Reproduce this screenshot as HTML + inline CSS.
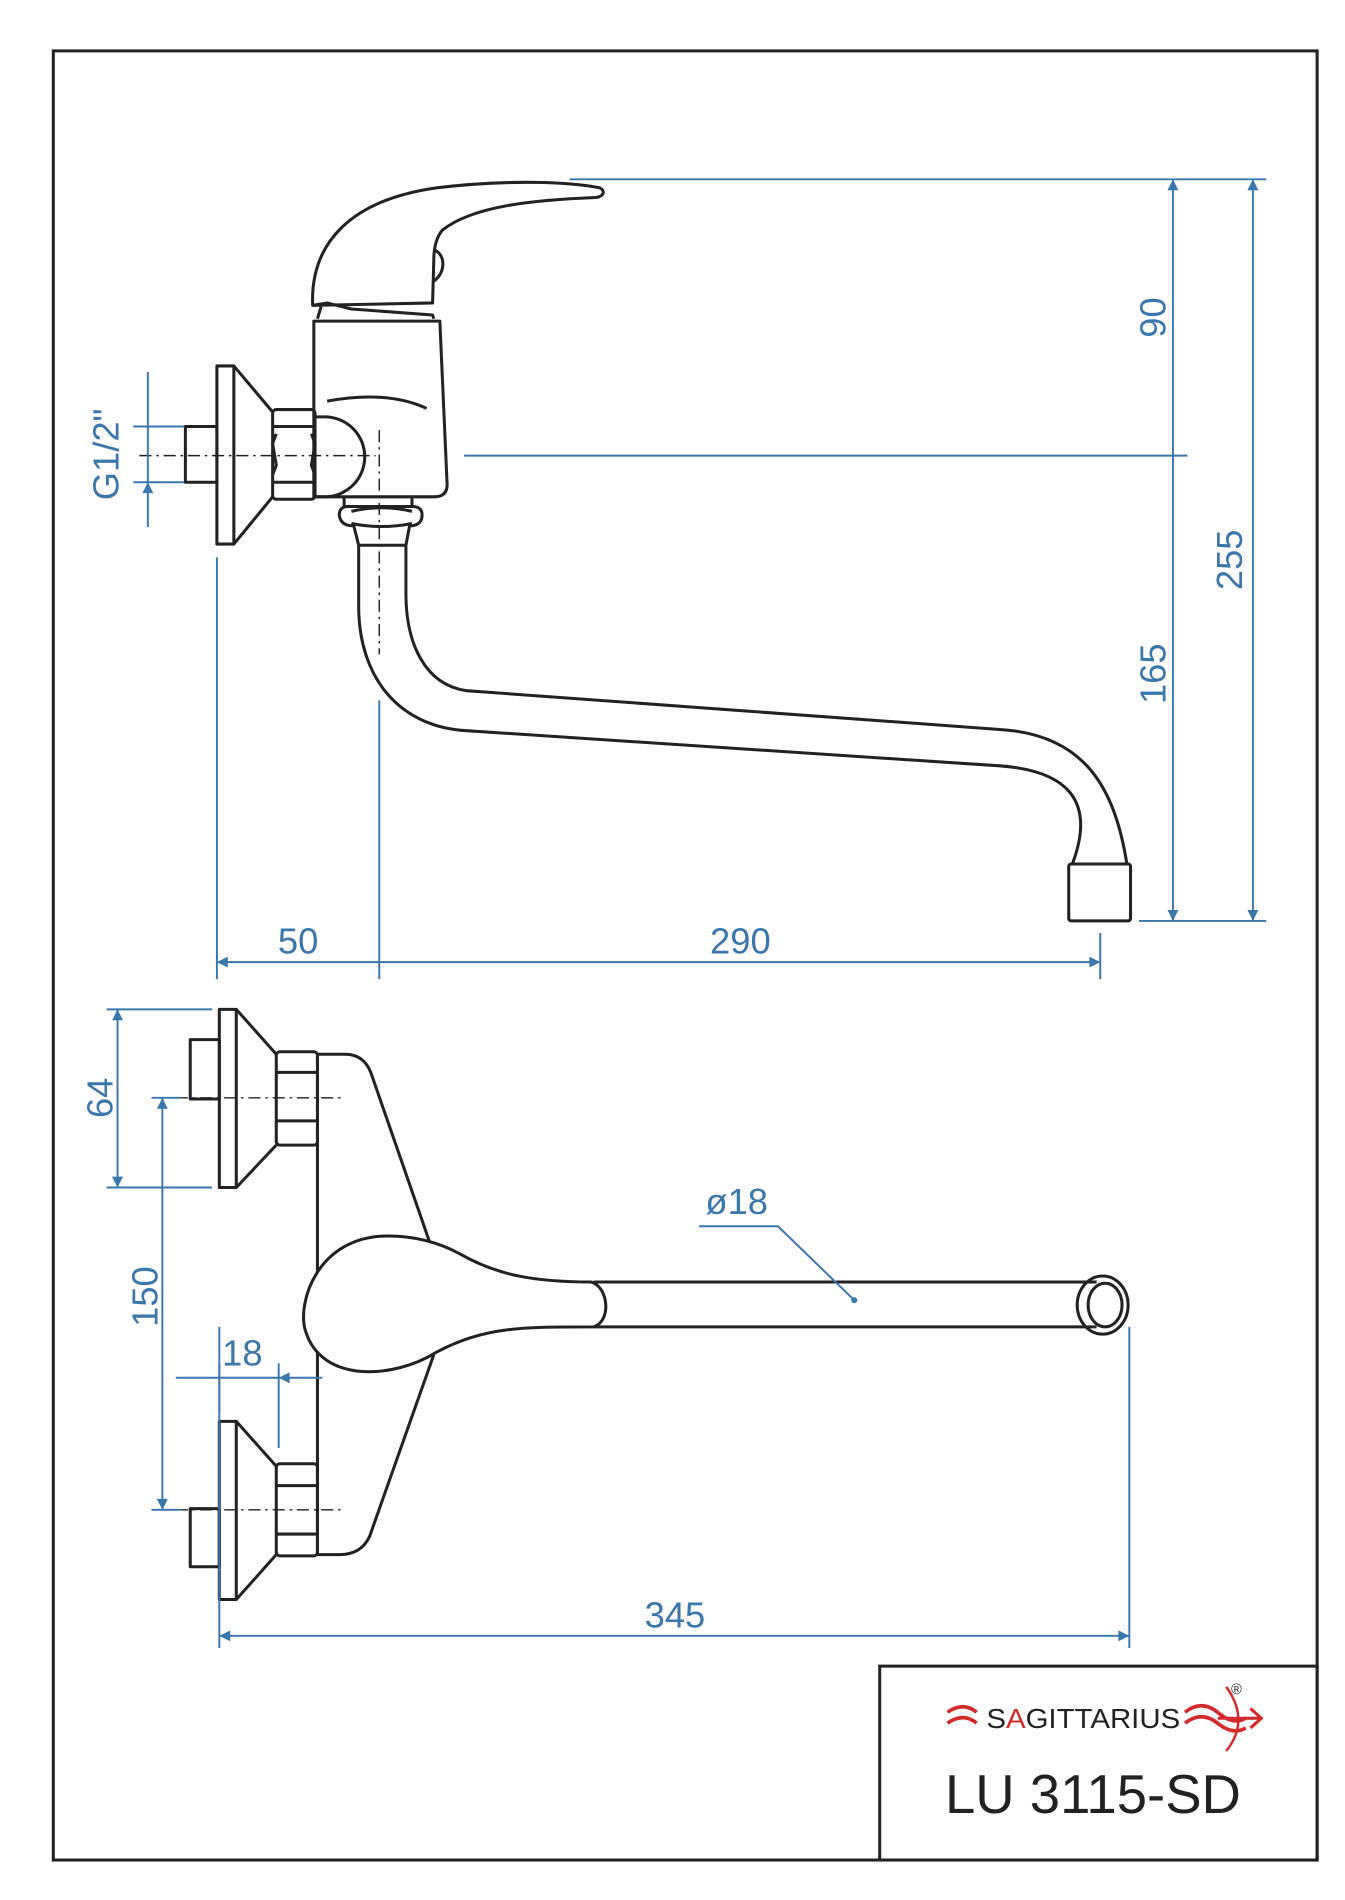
<!DOCTYPE html>
<html><head><meta charset="utf-8"><style>
html,body{margin:0;padding:0;background:#fff;}
svg{display:block;}
text{font-family:"Liberation Sans",sans-serif;}
</style></head><body>
<svg width="1345" height="1900" viewBox="0 0 1110 1568" preserveAspectRatio="none" xmlns="http://www.w3.org/2000/svg">
<defs>
<marker id="a" viewBox="0 0 10 10" refX="10" refY="5" markerWidth="14" markerHeight="9" orient="auto-start-reverse" markerUnits="userSpaceOnUse"><path d="M0,0L10,5L0,10z" fill="#3a77ad"/></marker>
</defs>
<rect x="44" y="42" width="1043" height="1493" fill="none" stroke="#222" stroke-width="2.5"/>
<rect x="726" y="1375" width="361" height="160" fill="none" stroke="#222" stroke-width="2.5"/>

<g fill="none" stroke="#222" stroke-width="2.5" stroke-linejoin="round">
<rect x="153" y="352" width="26" height="46"/>
<rect x="179" y="302" width="14" height="147"/>
<path d="M193,302 L225,340 M193,449 L225,410"/>
<rect x="225" y="338" width="35" height="74" rx="3"/>
<path d="M225,352 H260 M225,398 H260 M228,358 L225,366 L228,384 L225,392 M257,358 L260,366 L257,384 L260,392"/>
<path d="M259,265 H363 L369,400 Q369,410 358,410 H259 Z"/>
<path d="M260,344 H268 A33,33 0 0 1 268,410 H260"/>
<path d="M270,331 Q320,322 352,337"/>
<path d="M258,252 C256,200 290,165 360,155 C420,148 470,150 495,155 C500,158 498,162 492,163 C440,165 390,170 365,190 C360,196 358,205 358,215 L357,250 Z"/>
<path d="M358,206 C368,210 368,225 358,232"/>
<path d="M258,252 L270,250 L290,255 L357,260 L358,263 M262,263 L265,253"/>
<path d="M284,410 V418 H340 V410"/>
<path d="M280,425 Q280,417 290,418 H340 Q350,418 348,428 Q346,434 338,434 L335,450 H296 L292,434 Q281,434 280,425 Z"/>
<path d="M290,422 Q315,416 340,422 M290,432 Q315,437 340,432"/>
<path d="M296,450 V500 C296,560 330,600 385,603 L825,632 C880,636 905,660 885,713"/>
<path d="M335,450 V490 C335,530 350,565 385,570 L825,602 C895,606 920,650 930,713"/>
<rect x="882" y="713" width="51" height="47" rx="2"/>

<rect x="157" y="858" width="24" height="49"/>
<rect x="181" y="833" width="14" height="147"/>
<path d="M195,833 L228,870 M195,980 L228,945"/>
<rect x="228" y="868" width="34" height="77" rx="3"/>
<path d="M228,885 H262 M228,925 H262"/>
<rect x="157" y="1245" width="24" height="48"/>
<rect x="181" y="1173" width="14" height="147"/>
<path d="M195,1173 L228,1210 M195,1320 L228,1283"/>
<rect x="228" y="1208" width="34" height="76" rx="3"/>
<path d="M228,1226 H262 M228,1266 H262"/>
<path d="M262,870 H285 Q300,870 306,885 L358,1035 M358,1118 L305,1268 Q298,1283 280,1283 H262 M262,870 V1283"/>
<path d="M320,1020 C262,1020 245,1075 252,1098 C265,1142 325,1138 360,1116 C400,1095 430,1095 490,1095 C505,1090 502,1062 488,1058 C440,1058 410,1052 380,1035 C360,1024 340,1020 320,1020 Z" fill="#fff"/>
<path d="M490,1058 H905 M490,1095 H905"/>
<ellipse cx="910" cy="1077" rx="21" ry="24"/>
<ellipse cx="912" cy="1077" rx="14" ry="18"/>
</g>

<g stroke="#222" stroke-width="1.2" stroke-dasharray="10,4,2,4" fill="none">
<path d="M115,376 H310 M313,355 V540 M125,906 H282 M125,1246 H282"/>
</g>

<g stroke="#3a77ad" stroke-width="1.6" fill="none">
<path d="M470,148 H1045 M383,376 H980 M940,760 H1045"/>
<path d="M968,148 V376 M968,376 V760" marker-start="url(#a)" marker-end="url(#a)"/>
<path d="M1034,148 V760" marker-start="url(#a)" marker-end="url(#a)"/>
<path d="M110,352 H152 M110,398 H152"/>
<path d="M122,307 V352 M122,435 V398" marker-end="url(#a)"/>
<path d="M122,352 V398"/>
<path d="M179,460 V808 M313,578 V808 M908,770 V808"/>
<path d="M179,794 H313 M313,794 H908" marker-start="url(#a)" marker-end="url(#a)"/>
<path d="M88,833 H175 M88,980 H175"/>
<path d="M97,833 V980" marker-start="url(#a)" marker-end="url(#a)"/>
<path d="M125,906 H150 M125,1246 H150"/>
<path d="M134,906 V1246" marker-start="url(#a)" marker-end="url(#a)"/>
<path d="M181,1125 V1165 M230,1125 V1195"/>
<path d="M145,1137 H181 M266,1137 H230" marker-end="url(#a)"/>
<path d="M181,1137 H230"/>
<path d="M181,1095 V1360 M932,1095 V1360"/>
<path d="M181,1350 H932" marker-start="url(#a)" marker-end="url(#a)"/>
<path d="M577,1012 H642 L705,1073"/>
</g>
<circle cx="705" cy="1073" r="2.5" fill="#3a77ad"/>

<g fill="#3a77ad" font-size="30">
<text x="246" y="787" text-anchor="middle">50</text>
<text x="611" y="787" text-anchor="middle">290</text>
<text x="557" y="1343" text-anchor="middle">345</text>
<text x="608" y="1002" text-anchor="middle">ø18</text>
<text x="200" y="1127" text-anchor="middle">18</text>
<text transform="translate(962,262) rotate(-90)" text-anchor="middle">90</text>
<text transform="translate(962,556) rotate(-90)" text-anchor="middle">165</text>
<text transform="translate(1025,462) rotate(-90)" text-anchor="middle">255</text>
<text transform="translate(98,375) rotate(-90)" text-anchor="middle">G1/2"</text>
<text transform="translate(93,906) rotate(-90)" text-anchor="middle">64</text>
<text transform="translate(130,1070) rotate(-90)" text-anchor="middle">150</text>
</g>

<g fill="none" stroke="#d42a2a" stroke-width="3">
<path d="M782,1413 Q795,1404 806,1413 M782,1422 Q795,1413 806,1422"/>
<path d="M978,1413 Q992,1402 1006,1414 Q1018,1424 1028,1418 M978,1422 Q992,1411 1006,1423 Q1018,1432 1028,1426"/>
<path d="M1012,1392 Q1032,1420 1012,1445" stroke-width="2"/>
<path d="M1005,1418 H1040 M1032,1410 L1041,1418 L1032,1426" stroke-width="2.5"/>
</g>
<text x="814" y="1426" font-size="23" fill="#222" textLength="160" lengthAdjust="spacingAndGlyphs">S<tspan fill="#d42a2a">A</tspan>GITTARIUS</text>
<text x="1016" y="1398" font-size="12" fill="#222">®</text>
<text x="902" y="1496" font-size="45" fill="#222" text-anchor="middle">LU 3115-SD</text>
</svg>
</body></html>
